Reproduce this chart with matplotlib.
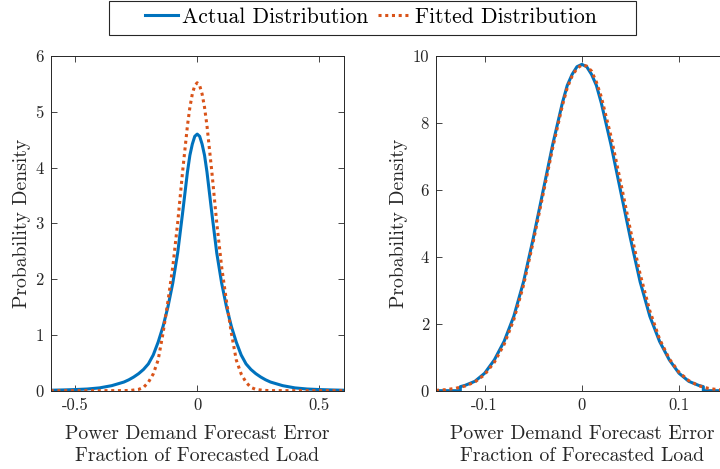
import matplotlib
matplotlib.use("Agg")
import matplotlib.pyplot as plt
from matplotlib.lines import Line2D
from matplotlib.patches import Rectangle

# ---------------- data ----------------
# Left panel: actual (heavy-tailed) vs fitted (normal)
left_actual_x = [-0.60, -0.55, -0.50, -0.45, -0.40, -0.35, -0.30, -0.28, -0.26, -0.24,
                 -0.22, -0.20, -0.18, -0.16, -0.14, -0.12, -0.10, -0.08, -0.06, -0.04,
                 -0.03, -0.02, -0.01, 0.00, 0.01, 0.02, 0.03, 0.04, 0.06, 0.08, 0.10,
                 0.12, 0.14, 0.16, 0.18, 0.20, 0.22, 0.24, 0.26, 0.28, 0.30, 0.35,
                 0.40, 0.45, 0.50, 0.55, 0.60]
left_actual_y = [0.008, 0.013, 0.020, 0.030, 0.050, 0.090, 0.155, 0.195, 0.245, 0.305,
                 0.38, 0.48, 0.64, 0.87, 1.15, 1.50, 1.93, 2.47, 3.18, 3.92,
                 4.22, 4.42, 4.56, 4.60, 4.56, 4.42, 4.22, 3.92, 3.18, 2.47, 1.93,
                 1.50, 1.15, 0.87, 0.64, 0.48, 0.38, 0.305, 0.245, 0.195, 0.155, 0.090,
                 0.050, 0.030, 0.020, 0.013, 0.008]

left_fit_x = [-0.60, -0.40, -0.30, -0.27, -0.24, -0.22, -0.20, -0.18, -0.16, -0.14,
              -0.12, -0.10, -0.08, -0.06, -0.04, -0.03, -0.02, -0.01, 0.00, 0.01, 0.02,
              0.03, 0.04, 0.06, 0.08, 0.10, 0.12, 0.14, 0.16, 0.18, 0.20, 0.22, 0.24,
              0.27, 0.30, 0.40, 0.60]
left_fit_y = [0.0, 0.0, 0.001, 0.006, 0.023, 0.058, 0.15, 0.30, 0.55, 1.03,
              1.60, 2.22, 3.01, 3.92, 4.75, 5.08, 5.32, 5.47, 5.52, 5.47, 5.32,
              5.08, 4.75, 3.92, 3.01, 2.22, 1.60, 1.03, 0.55, 0.30, 0.15, 0.058, 0.023,
              0.006, 0.001, 0.0, 0.0]

# Right panel: actual (truncated at +/-0.125) vs fitted (normal)
right_actual_x = [-0.150, -0.125, -0.125, -0.12, -0.11, -0.10, -0.09, -0.08, -0.07, -0.06,
                  -0.05, -0.04, -0.03, -0.02, -0.015, -0.01, -0.005, 0.0, 0.005, 0.01,
                  0.015, 0.02, 0.03, 0.04, 0.05, 0.06, 0.07, 0.08, 0.09, 0.10, 0.11,
                  0.12, 0.125, 0.125, 0.150]
right_actual_y = [0.0, 0.0, 0.12, 0.16, 0.28, 0.52, 0.92, 1.47, 2.22, 3.25,
                  4.55, 5.95, 7.35, 8.60, 9.12, 9.45, 9.68, 9.75, 9.68, 9.45,
                  9.12, 8.60, 7.35, 5.95, 4.55, 3.25, 2.22, 1.47, 0.92, 0.52, 0.28,
                  0.16, 0.12, 0.0, 0.0]

right_fit_x = [-0.15, -0.14, -0.13, -0.12, -0.11, -0.10, -0.09, -0.08, -0.07, -0.06,
               -0.05, -0.04, -0.03, -0.02, -0.015, -0.01, -0.005, 0.0, 0.005, 0.01,
               0.015, 0.02, 0.03, 0.04, 0.05, 0.06, 0.07, 0.08, 0.09, 0.10, 0.11,
               0.12, 0.13, 0.14, 0.15]
right_fit_y = [0.01, 0.03, 0.07, 0.14, 0.26, 0.48, 0.85, 1.38, 2.12, 3.15,
               4.45, 5.85, 7.25, 8.52, 9.05, 9.40, 9.63, 9.73, 9.70, 9.55,
               9.22, 8.78, 7.60, 6.22, 4.80, 3.48, 2.38, 1.54, 0.95, 0.55, 0.30,
               0.15, 0.07, 0.03, 0.01]

left_xticks = [-0.5, 0.0, 0.5]
left_xticklabels = ["-0.5", "0", "0.5"]
left_yticks = [0, 1, 2, 3, 4, 5, 6]
right_xticks = [-0.1, 0.0, 0.1]
right_xticklabels = ["-0.1", "0", "0.1"]
right_yticks = [0, 2, 4, 6, 8, 10]

series_names = ["Actual Distribution", "Fitted Distribution"]
xlabel_text = "Power Demand Forecast Error\nFraction of Forecasted Load"
ylabel_text = "Probability Density"

# ---------------- style ----------------
BLUE = "#0072BD"
ORANGE = "#D95319"
AXC = "#262626"
plt.rcParams["font.family"] = ["cmr10", "DejaVu Serif"]
plt.rcParams["axes.formatter.use_mathtext"] = True

fig = plt.figure(figsize=(7.2, 4.69), dpi=100)
ax1 = fig.add_axes([0.0704, 0.167, 0.407, 0.7136])
ax2 = fig.add_axes([0.6056, 0.167, 0.405, 0.7136])

LW = 2.2
DOT = (0, (1.0, 1.2))

def style(ax, xlim, ylim, xt, xtl, yt):
    ax.set_xlim(*xlim)
    ax.set_ylim(*ylim)
    ax.set_xticks(xt)
    ax.set_xticklabels(xtl)
    ax.set_yticks(yt)
    ax.set_yticklabels([str(v) for v in yt])
    ax.tick_params(direction="in", length=4, width=0.6, colors=AXC,
                   labelsize=12, top=True, right=True, pad=5)
    for s in ax.spines.values():
        s.set_color(AXC)
        s.set_linewidth(0.7)
    ax.set_xlabel(xlabel_text, fontsize=14.2, color=AXC, linespacing=1.3, labelpad=8.5)
    ax.set_ylabel(ylabel_text, fontsize=14.2, color=AXC, labelpad=3)

ax1.plot(left_actual_x, left_actual_y, color=BLUE, lw=LW, solid_joinstyle="round")
ax1.plot(left_fit_x, left_fit_y, color=ORANGE, lw=LW, linestyle=DOT, dash_capstyle="butt")
style(ax1, (-0.6, 0.6), (0, 6), left_xticks, left_xticklabels, left_yticks)

ax2.plot(right_actual_x, right_actual_y, color=BLUE, lw=LW, solid_joinstyle="round")
ax2.plot(right_fit_x, right_fit_y, color=ORANGE, lw=LW, linestyle=DOT, dash_capstyle="butt")
style(ax2, (-0.15, 0.15), (0, 10), right_xticks, right_xticklabels, right_yticks)

handles = [Line2D([], [], color=BLUE, lw=LW),
           Line2D([], [], color=ORANGE, lw=LW, linestyle=DOT, dash_capstyle="butt")]
leg = fig.legend(handles, series_names, loc="center", bbox_to_anchor=(371 / 720, 1 - 17 / 469),
                 ncol=2, fontsize=15.6, frameon=False,
                 handlelength=1.5, handletextpad=0.2, columnspacing=0.45,
                 borderpad=0.2)
# legend box (wider than its content, as in the reference)
fig.patches.append(Rectangle((109 / 720, 1 - 35 / 469), (636 - 109) / 720, 34 / 469,
                             transform=fig.transFigure, fill=False,
                             edgecolor=AXC, linewidth=0.8))

fig.savefig("out.png", dpi=100)
